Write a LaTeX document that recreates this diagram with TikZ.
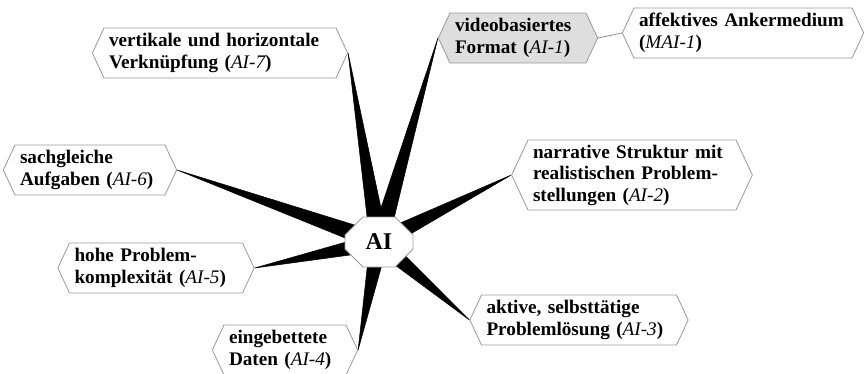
\documentclass[tikz,border=0pt]{standalone}
\usepackage{fontspec}
\setmainfont{Liberation Serif}
\usetikzlibrary{calc,backgrounds,shapes.symbols,shapes.misc}
\newcommand{\aicode}[1]{{\mdseries\itshape #1}}

\begin{document}
\begin{tikzpicture}[x=1pt,y=-1pt]
\tikzset{
  hexnode/.style={signal,signal to=west and east,signal pointer angle=130,draw=black!40,line width=0.8pt,fill=white,minimum height=50pt,inner xsep=5pt,inner ysep=2pt,align=left,font=\fontsize{19.2}{21.5}\selectfont\bfseries},
  hubnode/.style={chamfered rectangle,chamfered rectangle xsep=9pt,chamfered rectangle ysep=9pt,draw=black!40,line width=0.8pt,fill=white,minimum width=68pt,minimum height=50pt,font=\fontsize{24}{26}\selectfont\bfseries},
  spoke/.style={fill=black,draw=black,line width=0.5pt,line join=round},
  link/.style={draw=black!45,line width=0.8pt}
}
\useasboundingbox (0,0) rectangle (866,373);
\node[hubnode] (n_AI) at (379,242) {AI};
\node[hexnode,text width=222pt] (n_AI7) at (220,53) {vertikale und horizontale\\Verknüpfung (\aicode{AI-7})};
\node[hexnode,text width=140pt] (n_AI6) at (90,170) {sachgleiche\\Aufgaben (\aicode{AI-6})};
\node[hexnode,text width=163pt] (n_AI5) at (156,268) {hohe Problem-\\komplexität (\aicode{AI-5})};
\node[hexnode,text width=112pt] (n_AI4) at (285,350) {eingebettete\\Daten (\aicode{AI-4})};
\node[hexnode,text width=126pt,fill=black!13] (n_AI1) at (518,38) {videobasiertes\\Format (\aicode{AI-1})};
\node[hexnode,text width=208pt] (n_MAI1) at (743,33) {affektives Ankermedium\\(\aicode{MAI-1})};
\node[hexnode,text width=198pt,minimum height=70pt] (n_AI2) at (632,175) {narrative Struktur mit\\realistischen Problem-\\stellungen (\aicode{AI-2})};
\node[hexnode,text width=185pt] (n_AI3) at (579,320) {aktive, selbsttätige\\Problemlösung (\aicode{AI-3})};
\begin{scope}[on background layer]
\fill[spoke] ($(n_AI.center)!9pt!90:(n_AI7.east)$) -- (n_AI7.east) -- ($(n_AI.center)!9pt!-90:(n_AI7.east)$) -- cycle;
\fill[spoke] ($(n_AI.center)!9pt!90:(n_AI6.east)$) -- (n_AI6.east) -- ($(n_AI.center)!9pt!-90:(n_AI6.east)$) -- cycle;
\fill[spoke] ($(n_AI.center)!9pt!90:(n_AI5.east)$) -- (n_AI5.east) -- ($(n_AI.center)!9pt!-90:(n_AI5.east)$) -- cycle;
\fill[spoke] ($(n_AI.center)!9pt!90:(n_AI4.east)$) -- (n_AI4.east) -- ($(n_AI.center)!9pt!-90:(n_AI4.east)$) -- cycle;
\fill[spoke] ($(n_AI.center)!9pt!90:(n_AI1.west)$) -- (n_AI1.west) -- ($(n_AI.center)!9pt!-90:(n_AI1.west)$) -- cycle;
\fill[spoke] ($(n_AI.center)!9pt!90:(n_AI2.west)$) -- (n_AI2.west) -- ($(n_AI.center)!9pt!-90:(n_AI2.west)$) -- cycle;
\fill[spoke] ($(n_AI.center)!9pt!90:(n_AI3.west)$) -- (n_AI3.west) -- ($(n_AI.center)!9pt!-90:(n_AI3.west)$) -- cycle;
\draw[link] (n_AI1.east) -- (n_MAI1.west);
\end{scope}
\end{tikzpicture}
\end{document}
